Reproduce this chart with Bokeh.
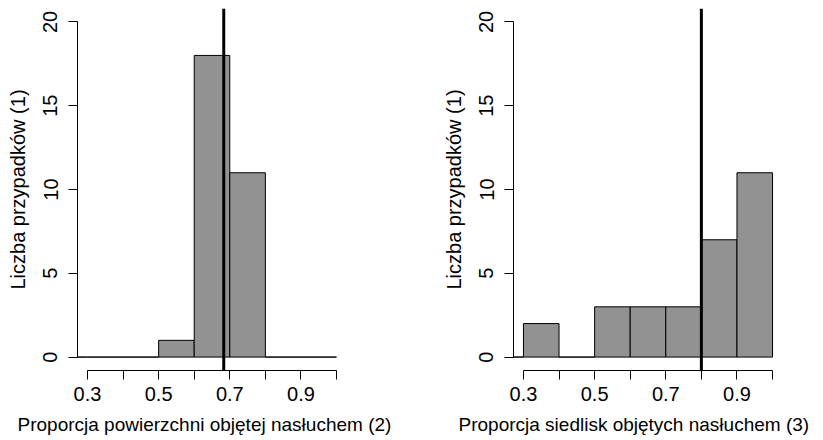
from bokeh.plotting import figure
from bokeh.layouts import row
from bokeh.models import Range1d, FixedTicker, Span, Title
from bokeh.embed import file_html
from bokeh.resources import INLINE

# ---- data ----
bin_edges = [0.2, 0.3, 0.4, 0.5, 0.6, 0.7, 0.8, 0.9, 1.0]
counts_area = [0, 0, 0, 1, 18, 11, 0, 0]      # Proporcja powierzchni objętej nasłuchem
counts_habitat = [0, 2, 0, 3, 3, 3, 7, 11]    # Proporcja siedlisk objętych nasłuchem
mean_area = 0.683
mean_habitat = 0.80
x_ticks = [0.3, 0.4, 0.5, 0.6, 0.7, 0.8, 0.9, 1.0]
x_tick_labels = ["0.3", "", "0.5", "", "0.7", "", "0.9", ""]
y_ticks = [0, 5, 10, 15, 20]
y_title = "Liczba przypadków (1)"
x_title_area = "Proporcja powierzchni objętej nasłuchem (2)"
x_title_habitat = "Proporcja siedlisk objętych nasłuchem (3)"

FONT = "Liberation Sans"
FS = "20px"
FS_TITLE = "19px"
BAR_FILL = "#929292"


def make_panel(counts, mean_val, xtitle, left, right, title_offset):
    p = figure(frame_width=269, frame_height=362, output_backend="svg",
               toolbar_location=None,
               x_range=Range1d(0.272, 1.028), y_range=Range1d(-0.8, 20.8),
               min_border_left=left, min_border_right=right,
               min_border_top=8, min_border_bottom=70)
    p.outline_line_color = None
    p.xgrid.visible = False
    p.ygrid.visible = False
    p.background_fill_color = "white"
    p.border_fill_color = "white"

    p.quad(left=bin_edges[:-1], right=bin_edges[1:], bottom=0, top=counts,
           fill_color=BAR_FILL, line_color="black", line_width=1)

    p.add_layout(Span(location=mean_val, dimension="height",
                      line_color="black", line_width=3))

    # x axis
    xa = p.xaxis[0]
    xa.ticker = FixedTicker(ticks=x_ticks)
    xa.major_label_overrides = {t: l for t, l in zip(x_ticks, x_tick_labels)}
    xa.bounds = (x_ticks[0], x_ticks[-1])
    xa.minor_tick_line_color = None
    xa.major_tick_out = 9
    xa.major_tick_in = 0
    xa.major_label_standoff = 7
    xa.major_label_text_font = FONT
    xa.major_label_text_font_size = FS
    xa.major_label_text_color = "black"
    xa.axis_line_color = "black"
    xa.major_tick_line_color = "black"

    # y axis
    ya = p.yaxis[0]
    ya.ticker = FixedTicker(ticks=y_ticks)
    ya.bounds = (y_ticks[0], y_ticks[-1])
    ya.minor_tick_line_color = None
    ya.major_tick_out = 9
    ya.major_tick_in = 0
    ya.major_label_standoff = 11
    ya.major_label_orientation = "vertical"
    ya.major_label_text_font = FONT
    ya.major_label_text_font_size = FS
    ya.major_label_text_color = "black"
    ya.axis_line_color = "black"
    ya.major_tick_line_color = "black"
    ya.axis_label = y_title
    ya.axis_label_text_font = FONT
    ya.axis_label_text_font_size = FS
    ya.axis_label_text_font_style = "normal"
    ya.axis_label_text_color = "black"
    ya.axis_label_standoff = 12

    p.add_layout(Title(text=xtitle, align="left", offset=title_offset,
                       standoff=16, text_font=FONT, text_font_size=FS_TITLE,
                       text_font_style="normal", text_color="black"), "below")
    return p


p1 = make_panel(counts_area, mean_area, x_title_area, 77, 65, -60)
p2 = make_panel(counts_habitat, mean_habitat, x_title_habitat, 102, 41, -55)

p = row(p1, p2)
open("out.html", "w").write(file_html(p, INLINE))
